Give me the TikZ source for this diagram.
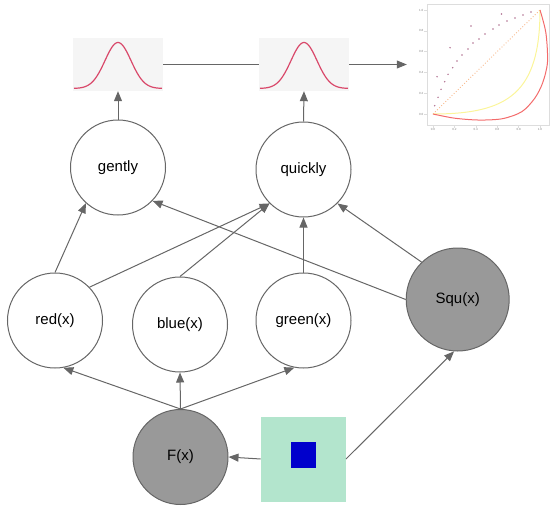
\documentclass[tikz,border=0pt]{standalone}
\usepackage{fontspec}
\setmainfont{Liberation Sans}
\usetikzlibrary{arrows.meta}
\definecolor{linegray}{HTML}{666666}
\definecolor{darkfill}{HTML}{999999}
\definecolor{mint}{HTML}{B3E5CD}
\definecolor{sqblue}{HTML}{0000CC}
\definecolor{boxfill}{HTML}{F5F5F5}
\definecolor{gausscol}{HTML}{D9486A}
\definecolor{framegray}{HTML}{DDDDDD}
\definecolor{rocred}{HTML}{F36B6B}
\definecolor{rocyellow}{HTML}{FBF59A}
\definecolor{diagorange}{HTML}{F8B88B}
\definecolor{dotcol}{HTML}{B07090}
\tikzset{
  base/.style={circle, draw=linegray, line width=1pt, minimum size=95pt, inner sep=0pt, font=\fontsize{15}{18}\selectfont},
  lightnode/.style={base, fill=white},
  darknode/.style={base, fill=darkfill},
  conn/.style={draw=linegray, line width=1pt, -{Triangle[length=10pt,width=8pt]}},
  plainline/.style={draw=linegray, line width=1pt},
  gbox/.style={fill=boxfill, draw=none, minimum width=90pt, minimum height=53pt, inner sep=0pt},
  gcurve/.style={gausscol, line width=1.2pt},
  tick/.style={font=\fontsize{3}{3}\selectfont, text=gray, inner sep=0pt},
  pdot/.style={fill=dotcol},
}
\begin{document}
\begin{tikzpicture}[x=1pt,y=-1pt]
\useasboundingbox (0,0) rectangle (552,506);
% gaussian boxes
\node[gbox] (g1) at (118,64.5) {};
\node[gbox] (g2) at (304,64.5) {};
\draw[gcurve] plot[domain=-44:44, samples=80] ({118+\x}, {88.5-46*exp(-0.5*(\x/13)^2)});
\draw[gcurve] plot[domain=-44:44, samples=80] ({304+\x}, {88.5-46*exp(-0.5*(\x/13)^2)});
% plot image
\node[minimum width=145pt, minimum height=133pt, inner sep=0pt] (plot) at (479.5,66.5) {};
\draw[framegray, line width=0.8pt] (427,4) rectangle (549,125);
\foreach \v/\t in {0/0.0,1/0.2,2/0.4,3/0.6,4/0.8,5/1.0}{
  \draw[framegray, line width=0.5pt] (424,{114-20.8*\v}) -- (427,{114-20.8*\v});
  \node[tick, anchor=east] at (423.5,{114-20.8*\v}) {\t};
  \draw[framegray, line width=0.5pt] ({433+21.4*\v},125) -- ({433+21.4*\v},128);
  \node[tick, anchor=north] at ({433+21.4*\v},128.5) {\t};
}
\begin{scope}[shift={(433,114)}, x=107pt, y=104pt]
  \draw[diagorange, dotted, line width=0.9pt] (0,0) -- (1,1);
  \draw[rocyellow, line width=1pt] (0,0) .. controls (0.7,0) and (1.0,0.2) .. (1,1);
  \draw[rocred, line width=1pt] plot[smooth] coordinates {(0,0) (0.2,-0.04) (0.43,-0.058) (0.65,-0.045) (0.83,0.022) (0.95,0.15) (1.025,0.3) (1.07,0.5) (1.055,0.78) (1,1)};
\end{scope}
\foreach \px/\py in {434.7/105.7, 438/97.3, 441/89.3, 444.7/81.7, 448/74.3, 452.7/67.7, 457/61, 462/55, 468/49, 473/43, 479/39, 485/34, 493/29, 499/25, 507/21, 515/18, 523/15, 531/12, 437/76.7, 450/47.7, 471/26, 501.5/14}{
  \fill[pdot] (\px,\py) circle (0.8pt);
}
% nodes
\node[lightnode] (gently) at (118,167.5) {gently};
\node[lightnode] (quickly) at (303.5,169.5) {quickly};
\node[lightnode] (red) at (55,320.5) {red(x)};
\node[lightnode] (blue) at (180,324.5) {blue(x)};
\node[lightnode] (green) at (303.5,320.5) {green(x)};
\node[darknode, minimum size=103pt] (squ) at (457.7,299.5) {Squ(x)};
\node[darknode] (f) at (180.5,457) {F(x)};
\node[fill=mint, draw=none, minimum size=85pt, inner sep=0pt] (sq) at (303.3,459) {};
\node[fill=sqblue, draw=none, minimum width=25pt, minimum height=26pt, inner sep=0pt] (bl) at (303.3,454.5) {};
% connectors
\draw[plainline] (g1.east) -- (g2.west);
\draw[conn] (g2.east) -- (g2.east -| plot.west);
\draw[conn] (gently.north) -- (g1.south);
\draw[conn] (quickly.north) -- (g2.south);
\draw[conn] (red.north) -- (gently.228);
\draw[conn] (red.44) -- (quickly.225);
\draw[conn] (blue.north) -- (quickly.225);
\draw[conn] (green.north) -- (quickly.south);
\draw[conn] (squ.134) -- (quickly.315);
\draw[conn] (squ.west) -- (gently.316);
\draw[conn] (f.north) -- (red.280);
\draw[conn] (f.north) -- (blue.south);
\draw[conn] (f.north) -- (green.259);
\draw[conn] (sq.west) -- (f.east);
\draw[conn] (sq.east) -- (squ.266);
\end{tikzpicture}
\end{document}
